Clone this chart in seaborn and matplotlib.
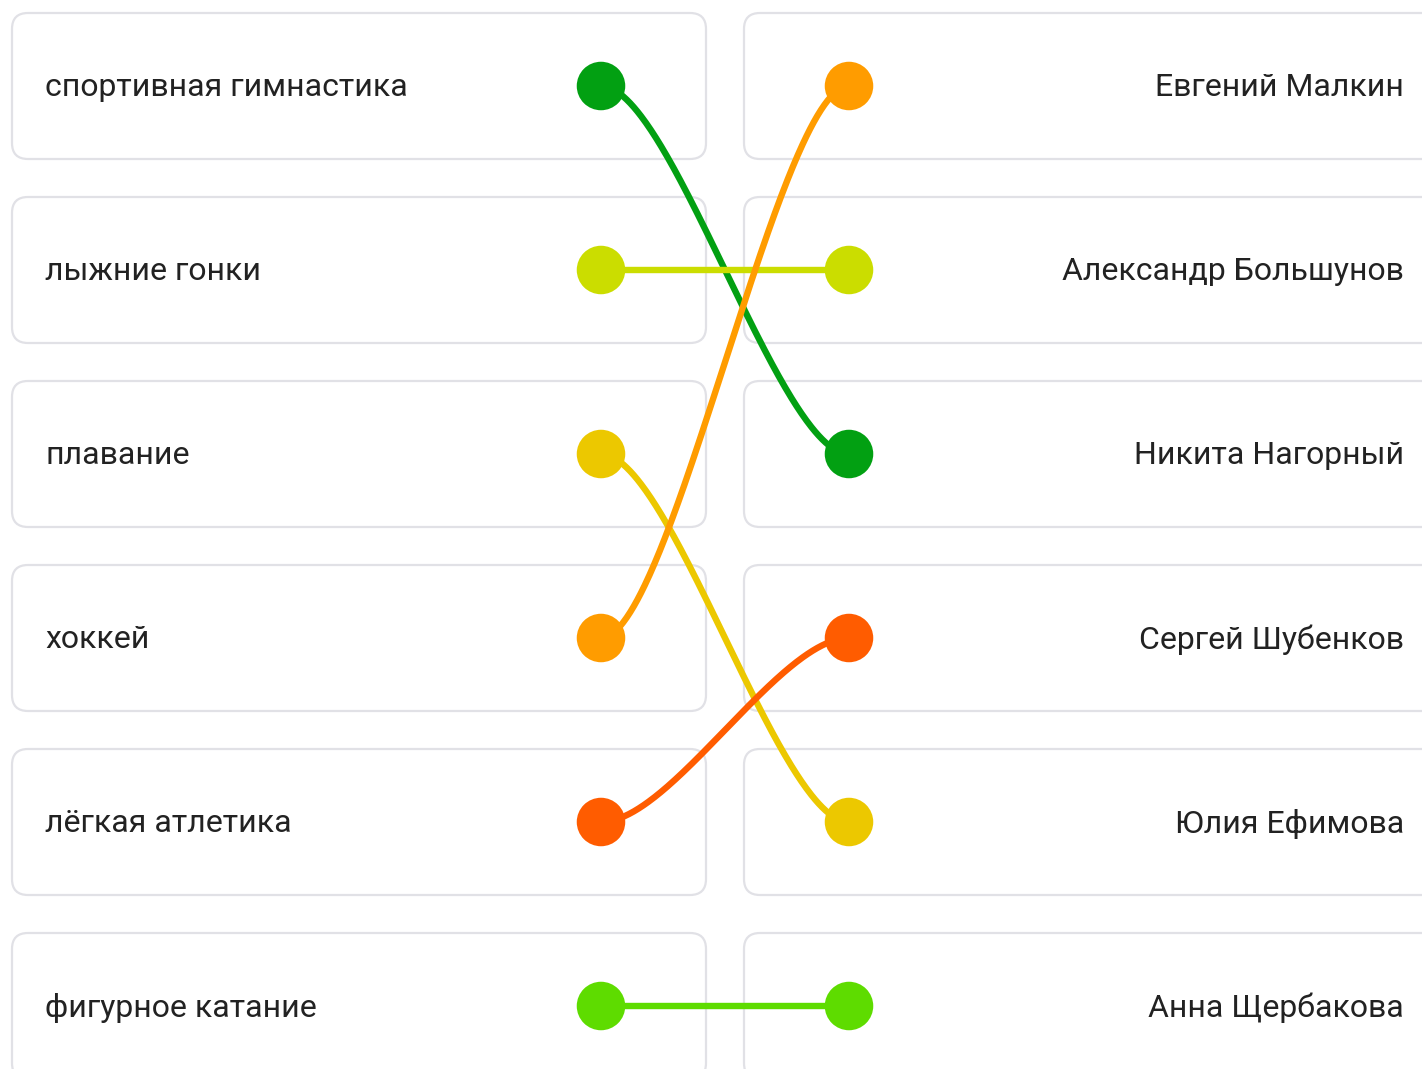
import numpy as np
import pandas as pd
import seaborn as sns
import matplotlib.pyplot as plt
from matplotlib.patches import FancyBboxPatch

# Левая колонка (виды спорта) и правая колонка (спортсмены)
sports = ["спортивная гимнастика", "лыжние гонки", "плавание",
          "хоккей", "лёгкая атлетика", "фигурное катание"]
athletes = ["Евгений Малкин", "Александр Большунов", "Никита Нагорный",
            "Сергей Шубенков", "Юлия Ефимова", "Анна Щербакова"]
# для каждого вида спорта - номер строки спортсмена справа
match_to = [2, 1, 4, 0, 3, 5]
colors = ["#02a012", "#cbdd00", "#ecc800", "#ff9c00", "#ff5c00", "#5edc00"]

W, H = 1422, 1069
row_y0, row_step = 86, 184
x_left_dot, x_right_dot = 601, 849

sns.set_theme(style="white")
plt.rcParams["font.family"] = ["Roboto", "DejaVu Sans"]

fig = plt.figure(figsize=(W / 100, H / 100), dpi=100)
ax = fig.add_axes([0, 0, 1, 1])

rows_y = [row_y0 + row_step * i for i in range(len(sports))]

# карточки
for y in rows_y:
    for x0, x1 in [(12, 706), (744, 1460)]:
        ax.add_patch(FancyBboxPatch((x0, y - 73), x1 - x0, 146,
                                    boxstyle="round,pad=0,rounding_size=16",
                                    fc="white", ec="#e1e1e6", lw=1.6, zorder=1))

for i, (s, a) in enumerate(zip(sports, athletes)):
    ax.text(45, rows_y[i] + 2, s, fontsize=23, color="#222222",
            va="center", ha="left", zorder=5)
    ax.text(1404, rows_y[i] + 2, a, fontsize=23, color="#222222",
            va="center", ha="right", zorder=5)

# линии соответствий (кубическая кривая Безье)
t = np.linspace(0, 1, 200)
c = 70
curves = []
for i, j in enumerate(match_to):
    y0, y1 = rows_y[i], rows_y[j]
    p0 = np.array([x_left_dot, y0])
    p1 = np.array([x_left_dot + c, y0])
    p2 = np.array([x_right_dot - c, y1])
    p3 = np.array([x_right_dot, y1])
    pts = ((1 - t) ** 3)[:, None] * p0 + (3 * (1 - t) ** 2 * t)[:, None] * p1 \
        + (3 * (1 - t) * t ** 2)[:, None] * p2 + (t ** 3)[:, None] * p3
    curves.append(pd.DataFrame({"x": pts[:, 0], "y": pts[:, 1], "sport": sports[i]}))
lines = pd.concat(curves, ignore_index=True)
palette = dict(zip(sports, colors))
sns.lineplot(data=lines, x="x", y="y", hue="sport", palette=palette,
             sort=False, estimator=None, lw=4.6, legend=False, ax=ax, zorder=3)

dots = pd.DataFrame({
    "x": [x_left_dot] * len(sports) + [x_right_dot] * len(sports),
    "y": rows_y + [rows_y[j] for j in match_to],
    "sport": sports + sports,
})
sns.scatterplot(data=dots, x="x", y="y", hue="sport", palette=palette,
                s=1220, edgecolor="none", legend=False, ax=ax, zorder=4)
ax.set_xlim(0, W)
ax.set_ylim(H, 0)
ax.axis("off")

fig.savefig("out.png", dpi=100, facecolor="white")
